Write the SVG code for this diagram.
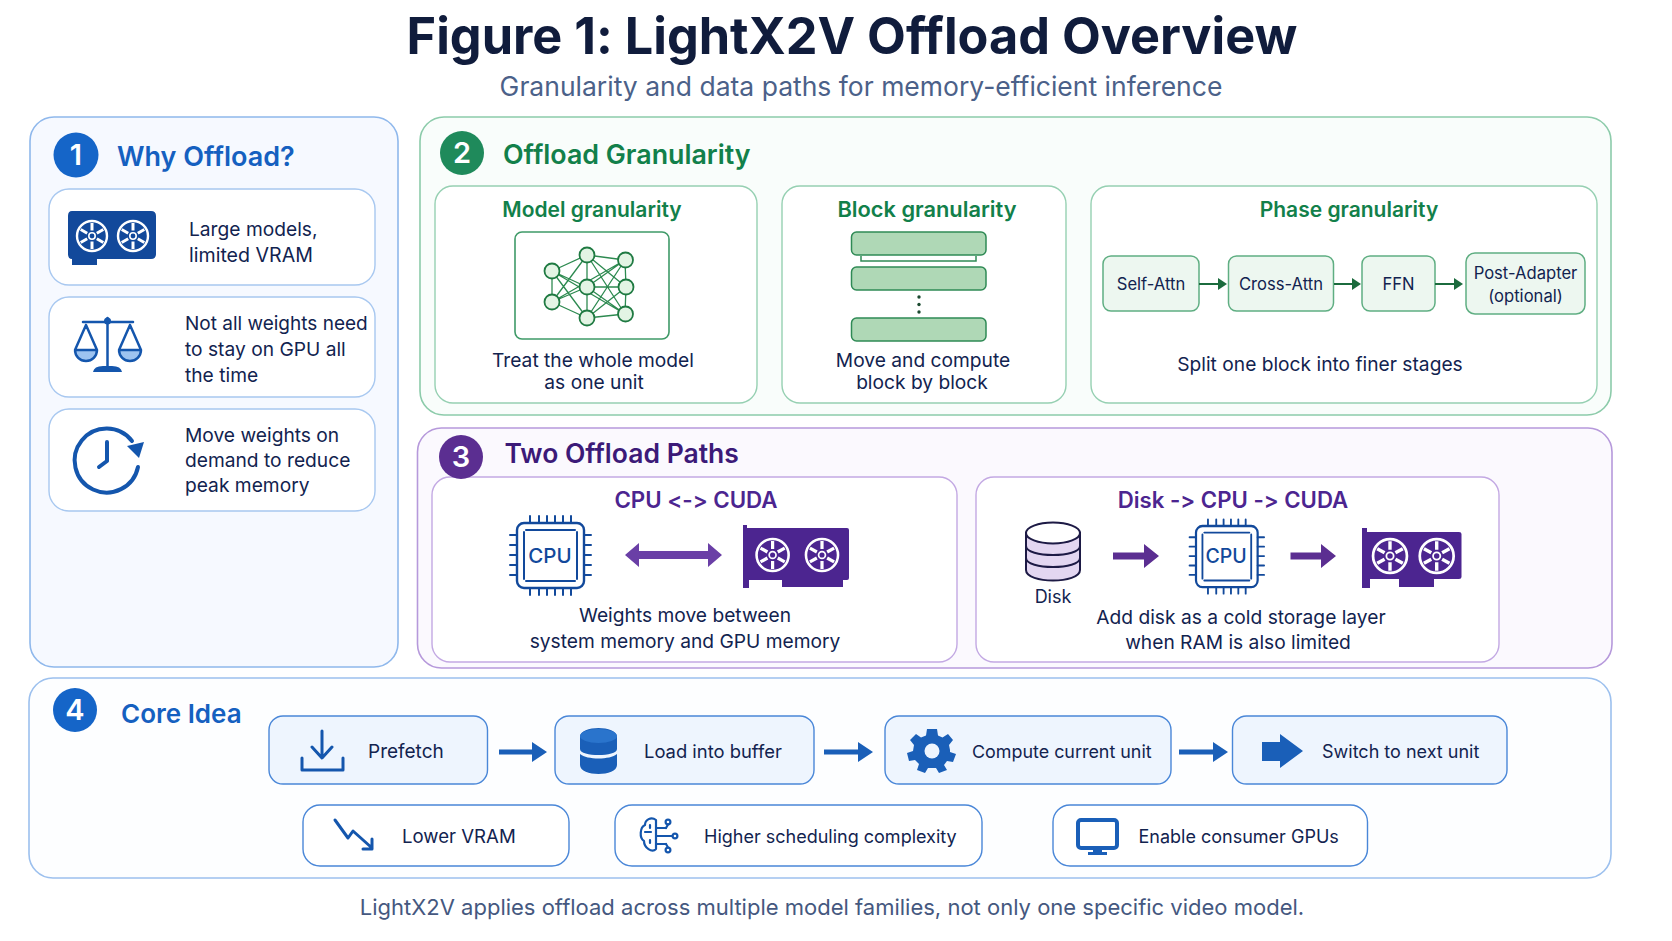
<svg xmlns="http://www.w3.org/2000/svg" xmlns:xlink="http://www.w3.org/1999/xlink" width="1672" height="941" viewBox="0 0 1672 941">
<style>
text{font-family:Inter,"Noto Sans","Liberation Sans",sans-serif;fill:#12234f;font-feature-settings:"calt" 0}
.h{font-weight:600;font-size:26.5px}
.sh{font-weight:600;font-size:21px}
.b{font-size:19.2px}
.s{font-size:16.6px}
.f{font-size:18px}
.m{text-anchor:middle}
.badge{font-size:29px;font-weight:600;fill:#fff;text-anchor:middle}
.bl{fill:#1560c0}.gr{fill:#12804a}.pu{fill:#4c2590}
.pb{fill:#f6f9ff;stroke:#8fb8ec;stroke-width:1.6}
.pg{fill:#f9fdfb;stroke:#8ccbaa;stroke-width:1.6}
.pp{fill:#fbf9fe;stroke:#b699db;stroke-width:1.6}
.p4{fill:#fdfeff;stroke:#9cc0ee;stroke-width:1.6}
.cb{fill:#fff;stroke:#a8c8f0;stroke-width:1.4}
.cg{fill:#fff;stroke:#96d0b2;stroke-width:1.4}
.cp{fill:#fff;stroke:#c3a9e3;stroke-width:1.4}
.st{fill:#edf7f0;stroke:#5fae82;stroke-width:1.5}
.blk{fill:#afd8b6;stroke:#2f8a55;stroke-width:1.5}
.fb{fill:#eef5fe;stroke:#4a87d8;stroke-width:1.4}
.wb{fill:#fff;stroke:#4a87d8;stroke-width:1.4}
.ga{stroke:#1b6b3d;stroke-width:2;fill:none}
.nl{stroke:#2d8a50;stroke-width:1.3;fill:none}
.nn{fill:#e3f4e4;stroke:#1f7a42;stroke-width:1.8}
.ic{fill:none;stroke:#1456ad;stroke-linecap:round;stroke-linejoin:round}
</style>
<defs>
<g id="fan" fill="none" stroke="#fff">
<circle r="15" stroke-width="2.4"/><circle r="3.2" stroke-width="1.6"/>
<path stroke-width="3" d="M0-5.500V-13M4.800-2.800 11.300-6.500M4.800 2.800 11.300 6.500M0 5.500V13M-4.800 2.800-11.300 6.500M-4.800-2.800-11.300-6.500"/>
</g>
<g id="cpu" fill="none" stroke="#12499b" stroke-width="2" stroke-linecap="round">
<rect x="0" y="0" width="67" height="65" rx="7" fill="#fff" stroke-width="2.4"/>
<path d="M9 7H58M9 58H58M7 9V56M60 9V56"/>
<path d="M13-7V0M22-7V0M30-7V0M38-7V0M46-7V0M54-7V0M13 65V72M22 65V72M30 65V72M38 65V72M46 65V72M54 65V72M-7 12H0M-7 22H0M-7 32H0M-7 42H0M-7 52H0M67 12H74M67 22H74M67 32H74M67 42H74M67 52H74"/>
</g>
</defs>
<rect width="1672" height="941" fill="#fff"/>
<g id="title">
<text x="852" y="54" class="m" style="font-size:50.4px;font-weight:700;fill:#101c3c">Figure 1: LightX2V Offload Overview</text>
<text x="861" y="96" class="m" style="font-size:26.5px;fill:#4b6189">Granularity and data paths for memory-efficient inference</text>
</g>
<g id="panel1">
<rect class="pb" x="30" y="117" width="368" height="550" rx="24"/>
<circle cx="76" cy="155" r="22.500" fill="#1565c8"/><text x="76" y="165" class="badge">1</text>
<text x="117" y="166" class="h bl" style="font-size:27px">Why Offload?</text>
</g>
<g id="why-large">
<rect class="cb" x="49" y="189" width="326" height="96" rx="20"/>
<path d="M72 211H151Q156 211 156 216V254Q156 259 151 259H97V265H72V259Q68 259 68 254V216Q68 211 72 211Z" fill="#12499b"/>
<use xlink:href="#fan" href="#fan" transform="translate(92 236)"/><use xlink:href="#fan" href="#fan" transform="translate(133 236)"/>
<text x="189" y="236" class="b">Large models,</text><text x="189" y="262" class="b" style="font-size:19.6px">limited VRAM</text>
</g>
<g id="why-not-all">
<rect class="cb" x="49" y="297" width="326" height="100" rx="20"/>
<path d="M75 350H97A11 11 0 0 1 75 350ZM119 350H141A11 11 0 0 1 119 350Z" fill="#9dc3f0"/>
<path class="ic" style="stroke-width:2.500" d="M83 322H133M107.500 318V367M86 325 75 350H97ZM130 325 119 350H141ZM75 350A11 11 0 0 0 97 350M119 350A11 11 0 0 0 141 350"/>
<circle cx="107.500" cy="321" r="3.500" fill="#1456ad"/><path d="M93 372Q94 366 103 366H112Q121 366 122 372Z" fill="#1456ad"/>
<text x="185" y="330" class="b" style="font-size:19px">Not all weights need</text><text x="185" y="356" class="b">to stay on GPU all</text><text x="185" y="382" class="b">the time</text>
</g>
<g id="why-move">
<rect class="cb" x="49" y="409" width="326" height="102" rx="20"/>
<path class="ic" style="stroke-width:4" d="M138 467A32 32 0 1 1 132 441M107 442V461L99 467"/>
<path d="M127 446 144 442 139 458Z" fill="#1456ad"/>
<text x="185" y="442" class="b">Move weights on</text><text x="185" y="467" class="b">demand to reduce</text><text x="185" y="492" class="b">peak memory</text>
</g>
<g id="panel2">
<rect class="pg" x="420" y="117" width="1191" height="298" rx="24"/>
<circle cx="462" cy="153" r="22" fill="#1f8a5b"/><text x="462" y="163" class="badge">2</text>
<text x="503" y="164" class="h gr" style="font-size:26.8px">Offload Granularity</text>
</g>
<g id="model-gran">
<rect class="cg" x="435" y="186" width="322" height="217" rx="18"/>
<text x="592" y="217" class="sh gr m">Model granularity</text>
<rect x="515" y="232" width="154" height="107" rx="7" fill="#fff" stroke="#3f9a68" stroke-width="1.600"/>
<path class="nl" d="M552 271 587 255 625 260M552 271 587 287M552 271 587 318M552 271 625 314M552 302 587 255M552 302 587 287M552 302 587 318M552 302 625 260M552 271V302M587 255V287V318M587 255 626 287M587 255 625 314M587 287H626M587 287 625 314M587 287 625 260M587 318 625 260M587 318 626 287M587 318 625 314M625 260 626 287 625 314"/>
<g class="nn"><circle cx="552" cy="271" r="7.500"/><circle cx="552" cy="302" r="7.500"/><circle cx="587" cy="255" r="7.500"/><circle cx="587" cy="287" r="7.500"/><circle cx="587" cy="318" r="7.500"/><circle cx="625.500" cy="260" r="7.500"/><circle cx="626" cy="287" r="7.500"/><circle cx="625.500" cy="314" r="7.500"/></g>
<text x="593" y="367" class="b m">Treat the whole model</text><text x="594" y="389" class="b m">as one unit</text>
</g>
<g id="block-gran">
<rect class="cg" x="782" y="186" width="284" height="217" rx="18"/>
<text x="927" y="217" class="sh gr m" style="font-size:21.8px">Block granularity</text>
<rect class="blk" x="851.500" y="232" width="134.500" height="23" rx="5"/><rect class="blk" x="851.500" y="267" width="134.500" height="23" rx="5"/><rect class="blk" x="851.500" y="318" width="134.500" height="23" rx="5"/>
<path d="M861 256V261H976V256" fill="none" stroke="#2f8a55" stroke-width="1.500"/>
<g fill="#1b4a30"><circle cx="919" cy="297" r="1.700"/><circle cx="919" cy="304.500" r="1.700"/><circle cx="919" cy="312" r="1.700"/></g>
<text x="923" y="367" class="b m">Move and compute</text><text x="922" y="389" class="b m">block by block</text>
</g>
<g id="phase-gran">
<rect class="cg" x="1091" y="186" width="506" height="217" rx="18"/>
<text x="1349" y="217" class="sh gr m">Phase granularity</text>
<text x="1320" y="371" class="b m">Split one block into finer stages</text>
</g>
<g id="self-attn"><rect class="st" x="1103" y="256" width="96" height="55" rx="8"/><text x="1151" y="290" class="s m">Self-Attn</text></g>
<g id="cross-attn"><rect class="st" x="1228.500" y="256" width="105" height="55" rx="8"/><text x="1281" y="290" class="s m">Cross-Attn</text></g>
<g id="ffn"><rect class="st" x="1362" y="256" width="73" height="55" rx="8"/><text x="1398.500" y="290" class="s m">FFN</text></g>
<g id="post-adapter"><rect class="st" x="1466" y="253" width="119" height="61" rx="9"/><text x="1525.500" y="279" class="s m">Post-Adapter</text><text x="1525.500" y="302" class="s m">(optional)</text></g>
<g id="panel3">
<rect class="pp" x="417.500" y="428" width="1194.500" height="240" rx="24"/>
<text x="504.500" y="463" class="h" style="fill:#3c1a78">Two Offload Paths</text>
</g>
<g id="path-cuda">
<rect class="cp" x="432" y="477" width="525" height="185" rx="18"/>
<text x="696" y="508" class="sh pu m" style="font-size:22.300px">CPU &lt;-&gt; CUDA</text>
<use xlink:href="#cpu" href="#cpu" transform="translate(517 523)"/><text x="550" y="563" class="m" style="font-size:20.500px;font-weight:500;fill:#12499b">CPU</text>
<path d="M743 525H747V528H847Q849 528 849 530V578Q849 580 847 580H843V587H782V580H749V588H743Z" fill="#4c2590"/><use xlink:href="#fan" href="#fan" transform="translate(772.600 555) scale(1.070)"/><use xlink:href="#fan" href="#fan" transform="translate(822 555) scale(1.070)"/>
<text x="685" y="622" class="b m">Weights move between</text><text x="685" y="648" class="b m">system memory and GPU memory</text>
</g>
<g id="path-disk">
<rect class="cp" x="976" y="477" width="523" height="185" rx="18"/>
<text x="1233" y="508" class="sh pu m" style="font-size:22.200px">Disk -&gt; CPU -&gt; CUDA</text>
<path d="M1026 533V570C1026 584 1080 584 1080 570V533Z" fill="#e3d6f1" stroke="#1d1a45" stroke-width="2"/><ellipse cx="1053" cy="533" rx="27" ry="10.500" fill="#fff" stroke="#1d1a45" stroke-width="2"/>
<path d="M1026 546C1026 558 1080 558 1080 546M1026 558C1026 570 1080 570 1080 558" fill="none" stroke="#1d1a45" stroke-width="2"/>
<text x="1053" y="603" class="f m">Disk</text>
<use xlink:href="#cpu" href="#cpu" transform="translate(1196 526) scale(.92 .94)"/><text x="1226" y="563" class="m" style="font-size:19.500px;font-weight:500;fill:#12499b">CPU</text>
<path d="M1362 528H1367V532H1459Q1461.500 532 1461.500 534V577Q1461.500 579 1459 579H1434V587H1399V579H1370V588H1362Z" fill="#4c2590"/><use xlink:href="#fan" href="#fan" transform="translate(1390 556) scale(1.130)"/><use xlink:href="#fan" href="#fan" transform="translate(1436.700 556) scale(1.130)"/>
<text x="1241" y="624" class="b m">Add disk as a cold storage layer</text><text x="1238" y="649" class="b m">when RAM is also limited</text>
</g>
<g id="panel3-badge"><circle cx="461" cy="457" r="22" fill="#5b2e91"/><text x="461" y="467" class="badge">3</text></g>
<g id="panel4">
<rect class="p4" x="29" y="678" width="1582" height="200" rx="24"/>
<circle cx="75" cy="710" r="22" fill="#1565c8"/><text x="75" y="720" class="badge">4</text>
<text x="121" y="723" class="h bl" style="font-size:26px">Core Idea</text>
</g>
<g id="prefetch"><rect class="fb" x="269" y="716" width="218.500" height="68" rx="14"/>
<path class="ic" style="stroke-width:3" d="M322 731V756M312 747 322 758 332 747M302 758V770H343V758"/>
<text x="368" y="758" class="f" style="font-size:19px">Prefetch</text></g>
<g id="load"><rect class="fb" x="555" y="716" width="259" height="68" rx="14"/>
<path d="M580 737C580 725 617 725 617 737V749C617 757 580 757 580 749ZM580 754C587 760 610 760 617 754V765C617 777 580 777 580 765Z" fill="#1a5fb8"/><ellipse cx="598.500" cy="736" rx="18.500" ry="7" fill="#2a74cc"/>
<text x="644" y="758" class="f" style="font-size:18.400px">Load into buffer</text></g>
<g id="compute"><rect class="fb" x="885" y="716" width="286" height="68" rx="14"/>
<g transform="translate(932 751)"><path fill="#1a5fb8" d="M-5-22H5L6-15.500 10.500-13.500 16-17 21-11 17-6 18-1V1L24 3 21 11 15 10 12 14 15 19 7 22 4 17H-4L-7 22-15 19-13 13-17 9-23 10-25 2-19 0-18-6-22-11-16-17-11-13.500-6-15.500Z"/><circle r="7.500" fill="#eef5fe"/></g>
<text x="972" y="758" class="f" style="font-size:17.900px">Compute current unit</text></g>
<g id="switch"><rect class="fb" x="1232.500" y="716" width="274.500" height="68" rx="14"/>
<path d="M1262 742H1280V734L1303 751 1280 768V761H1262Z" fill="#1a5fb8"/>
<text x="1322" y="758" class="f">Switch to next unit</text></g>
<g id="lower"><rect class="wb" x="303" y="805" width="266" height="61" rx="17"/>
<path class="ic" style="stroke-width:3" d="M335 820 348 838 353 831 372 848M372 839V849H363"/>
<text x="402" y="843" class="f" style="font-size:18.600px">Lower VRAM</text></g>
<g id="higher"><rect class="wb" x="615" y="805" width="367" height="61" rx="17"/>
<g class="ic" style="stroke-width:2.200"><path d="M656 820C651 816 645 820 645 825 640 827 639 838 644 841 644 848 652 853 656 849ZM656 828H666M656 836H672M656 844H666M656 820V849M645 832H651M650 825V828M650 840V843"/><circle cx="668" cy="822" r="2.400"/><circle cx="675" cy="836" r="2.400"/><circle cx="668" cy="850" r="2.400"/><path d="M666 828 668 824.500M666 844 668 847.500"/></g>
<text x="704" y="843" class="f">Higher scheduling complexity</text></g>
<g id="enable"><rect class="wb" x="1053" y="805" width="314.500" height="61" rx="17"/>
<rect x="1078" y="820" width="39" height="28" rx="3" fill="none" stroke="#1a5fb8" stroke-width="4"/><path d="M1093 850H1102V852H1107V855H1088V852H1093Z" fill="#1a5fb8"/>
<text x="1138.500" y="843" class="f">Enable consumer GPUs</text></g>
<g id="connectors">
<g class="ga"><path d="M1199 284H1220"/><path d="M1334 284H1354"/><path d="M1435 284H1456"/></g>
<g fill="#1b6b3d"><path d="M1218 278 1227 284 1218 290Z"/><path d="M1352 278 1361 284 1352 290Z"/><path d="M1454 278 1463 284 1454 290Z"/></g>
<path d="M625 555 639 543V551H708V543L722 555 708 567V559H639V567Z" fill="#6a3fa6"/>
<path d="M1113 552.500H1144V544L1159 556 1144 568V559.500H1113ZM1290.500 552.500H1321V544L1336 556 1321 568V559.500H1290.500Z" fill="#5b2e91"/>
<path d="M499 749.500H532V742L547 752 532 762V754.500H499ZM824 749.500H858V742L873 752 858 762V754.500H824ZM1179 749.500H1213V742L1228 752 1213 762V754.500H1179Z" fill="#1a5fb8"/>
</g>
<g id="footer"><text x="832" y="915" class="m" style="font-size:22px;fill:#45587f">LightX2V applies offload across multiple model families, not only one specific video model.</text></g>
</svg>
